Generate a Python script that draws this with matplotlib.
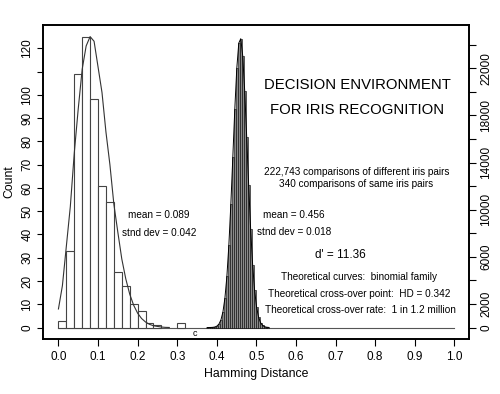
import matplotlib
matplotlib.use("Agg")
import matplotlib.pyplot as plt
import numpy as np

plt.rcParams['font.family'] = ['Liberation Sans', 'DejaVu Sans']

# ---------------- same-iris comparisons (left axis, counts) ----------------
same_edges = [0.00, 0.02, 0.04, 0.06, 0.08, 0.10, 0.12, 0.14, 0.16, 0.18,
              0.20, 0.22, 0.24, 0.30]
same_counts = [3, 33, 109, 125, 98, 61, 54, 24, 18, 10, 7, 2, 1, 2]

# theoretical curve for same pairs
same_curve_x = [0.00, 0.01, 0.02, 0.03, 0.04, 0.05, 0.06, 0.07, 0.08, 0.09,
                0.10, 0.11, 0.12, 0.13, 0.14, 0.15, 0.16, 0.17, 0.18, 0.19,
                0.20, 0.21, 0.22, 0.23, 0.24, 0.25, 0.26, 0.27, 0.28]
same_curve_y = [8, 18, 35, 52, 75, 94, 111, 121, 125, 123,
                112, 101, 84, 70, 53, 41, 29.5, 21, 14.4, 9.6,
                6.2, 3.9, 2.4, 1.4, 0.8, 0.5, 0.25, 0.1, 0.05]

# ---------------- different-iris comparisons (right axis, counts) ----------------
diff_start = 0.373
diff_width = 0.005
diff_counts = [0.5, 2, 6, 18, 49, 125, 297, 652, 1327, 2497,
               4354, 7025, 10490, 14504, 18568, 22005, 24140, 24515, 23048, 20059,
               16163, 12057, 8322, 5321, 3149, 1724, 875, 411, 178, 72, 27, 9]

x_ticks = [0.0, 0.1, 0.2, 0.3, 0.4, 0.5, 0.6, 0.7, 0.8, 0.9, 1.0]
left_ticks = list(range(0, 121, 10))
right_ticks = list(range(0, 24001, 2000))
right_labelled = [0, 2000, 6000, 10000, 14000, 18000, 22000]

fig = plt.figure(figsize=(5, 3.94), dpi=100)
ax = fig.add_axes([0.086, 0.1396, 0.852, 0.797])
ax2 = ax.twinx()

# left histogram
same_w = np.diff(same_edges + [same_edges[-1] + 0.02])
same_w[-2] = 0.02
ax.bar(same_edges, same_counts, width=same_w, align='edge',
       facecolor='white', edgecolor='#444444', linewidth=0.8, zorder=2)
ax.plot(same_curve_x, same_curve_y, color='#333333', lw=0.8, zorder=3)

# baseline
ax.plot([0, 1], [0, 0], color='#555555', lw=0.8, zorder=1)

# right histogram
diff_x = diff_start + diff_width * np.arange(len(diff_counts))
ax2.bar(diff_x, diff_counts, width=diff_width, align='edge',
        facecolor='#8a8a8a', edgecolor='black', linewidth=0.4, zorder=2)
ax2.plot(diff_x + diff_width / 2, diff_counts, color='black', lw=0.7, zorder=3)

ax.set_xlim(-0.039, 1.037)
ax.set_ylim(-4.9, 130)
ax2.set_ylim(-975, 25680)

ax.set_xticks(x_ticks)
ax.set_xticklabels(['%.1f' % t for t in x_ticks], fontsize=8.5)
ax.set_yticks(left_ticks)
ax.set_yticklabels(['' if t == 110 else str(t) for t in left_ticks],
                   fontsize=8.5, rotation=90, va='center')
ax2.set_yticks(right_ticks)
ax2.set_yticklabels([str(t) if t in right_labelled else '' for t in right_ticks],
                    fontsize=8.5, rotation=90, va='center')

ax.tick_params(axis='x', length=5, width=0.8, pad=4)
ax.tick_params(axis='y', length=4, width=0.8, pad=3)
ax2.tick_params(axis='y', length=5, width=0.8, pad=3)
for sp in list(ax.spines.values()) + list(ax2.spines.values()):
    sp.set_linewidth(1.2)

ax.set_xlabel('Hamming Distance', fontsize=8.8, labelpad=3)
ax.set_ylabel('Count', fontsize=8.8, labelpad=4)

# annotations
ax.text(0.755, 104.2, 'DECISION ENVIRONMENT', fontsize=10.7, ha='center', va='center')
ax.text(0.755, 93.5, 'FOR IRIS RECOGNITION', fontsize=10.7, ha='center', va='center')
ax.text(0.754, 67.0, '222,743 comparisons of different iris pairs', fontsize=7.2,
        ha='center', va='center')
ax.text(0.753, 61.6, '340 comparisons of same iris pairs', fontsize=7.2,
        ha='center', va='center')
ax.text(0.254, 48.4, 'mean = 0.089', fontsize=7.2, ha='center', va='center')
ax.text(0.254, 40.5, 'stnd dev = 0.042', fontsize=7.2, ha='center', va='center')
ax.text(0.594, 48.4, 'mean = 0.456', fontsize=7.2, ha='center', va='center')
ax.text(0.596, 41.0, 'stnd dev = 0.018', fontsize=7.2, ha='center', va='center')
ax.text(0.711, 31.2, "d' = 11.36", fontsize=8.5, ha='center', va='center')
ax.text(0.760, 21.6, 'Theoretical curves:  binomial family', fontsize=7.2,
        ha='center', va='center')
ax.text(0.759, 14.5, 'Theoretical cross-over point:  HD = 0.342', fontsize=7.2,
        ha='center', va='center')
ax.text(0.762, 7.6, 'Theoretical cross-over rate:  1 in 1.2 million', fontsize=7.2,
        ha='center', va='center')
ax.text(0.345, -2.7, 'c', fontsize=6.5, ha='center', va='center')

fig.savefig('out.png', dpi=100)
